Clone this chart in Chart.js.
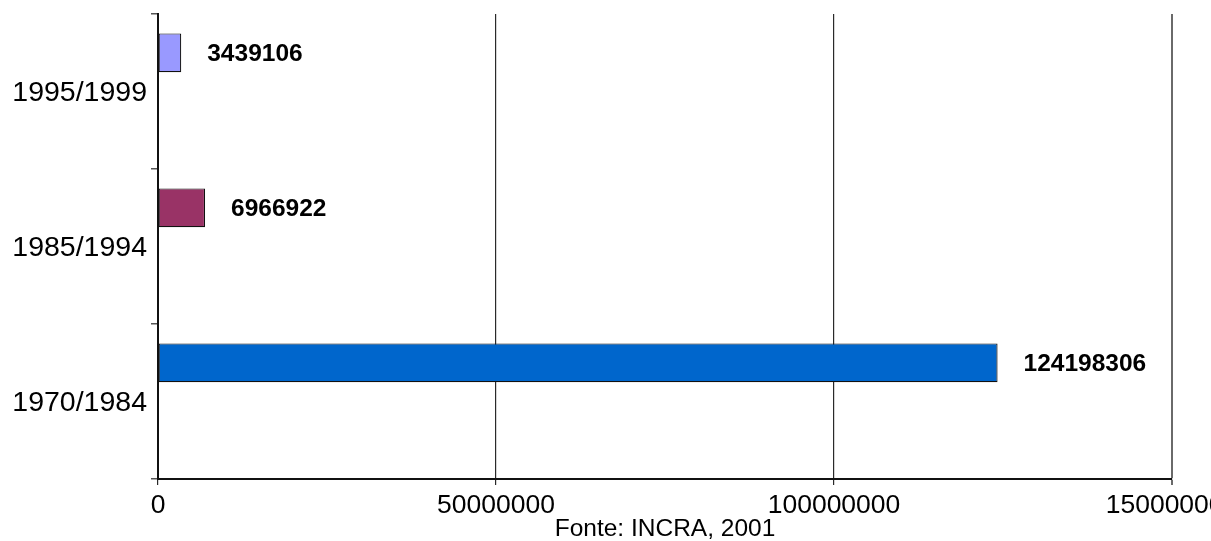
<!DOCTYPE html>
<html>
<head>
<meta charset="utf-8">
<script src="https://cdn.jsdelivr.net/npm/chart.js@4.4.1/dist/chart.umd.min.js"></script>
<style>
  html, body { margin: 0; padding: 0; background: #ffffff; }
  #wrap { width: 1211px; height: 541px; }
</style>
</head>
<body>
<div id="wrap"><canvas id="c" width="1211" height="541"></canvas></div>
<script>
// Periods (top to bottom) and the area recorded in each one
const periods = ['1995/1999', '1985/1994', '1970/1984'];
const areaValues = [3439106, 6966922, 124198306];
const barColors = ['#9999FF', '#993366', '#0066CC'];
const xTickValues = [0, 50000000, 100000000, 150000000];
const sourceNote = 'Fonte: INCRA, 2001';

const FONT = '"Liberation Sans", Arial, Helvetica, sans-serif';

// Writes each bar's value just past its end
const valueLabels = {
  id: 'valueLabels',
  afterDatasetsDraw(chart) {
    const meta = chart.getDatasetMeta(0);
    const ctx = chart.ctx;
    ctx.save();
    ctx.font = 'bold 24.5px ' + FONT;
    ctx.fillStyle = '#000000';
    ctx.textAlign = 'left';
    ctx.textBaseline = 'middle';
    meta.data.forEach((bar, i) => {
      ctx.fillText(String(areaValues[i]), bar.x + 26, bar.y + 1);
    });
    ctx.restore();
  }
};

const barStyle = {
  borderColor: '#111111',
  borderWidth: 1.2,
  borderSkipped: false,
  categoryPercentage: 0.75,
  barPercentage: 1.0
};

new Chart(document.getElementById('c'), {
  type: 'bar',
  data: {
    labels: periods,
    datasets: [
      Object.assign({ label: 'Área', data: areaValues, backgroundColor: barColors }, barStyle),
      // the two remaining series of the cluster hold no values
      Object.assign({ label: '', data: [] }, barStyle),
      Object.assign({ label: '', data: [] }, barStyle)
    ]
  },
  options: {
    indexAxis: 'y',
    responsive: false,
    animation: false,
    devicePixelRatio: 1,
    layout: { padding: { top: 14, right: 39, left: 0, bottom: 0 } },
    plugins: {
      legend: { display: false },
      tooltip: { enabled: false }
    },
    scales: {
      x: {
        type: 'linear',
        position: 'bottom',
        min: xTickValues[0],
        max: xTickValues[xTickValues.length - 1],
        afterBuildTicks(scale) {
          scale.ticks = xTickValues.map(v => ({ value: v }));
        },
        afterFit(scale) {
          scale.height = 62;
          scale.paddingLeft = 0;
          scale.paddingRight = 0;
        },
        ticks: {
          color: '#000000',
          font: { family: FONT, size: 26.5 },
          padding: 5,
          maxRotation: 0,
          autoSkip: false,
          callback: (v) => String(v)
        },
        grid: {
          drawOnChartArea: true,
          drawTicks: true,
          tickLength: 6,
          color: (c) => (c.index === 3 ? '#6a6a6a' : '#2a2a2a'),
          lineWidth: (c) => (c.index === 3 ? 2 : 1.2)
        },
        border: { display: true, color: '#111111', width: 2 },
        title: {
          display: true,
          text: sourceNote,
          color: '#000000',
          font: { family: FONT, size: 24.5, lineHeight: 1 },
          padding: { top: 0, bottom: 0 }
        }
      },
      y: {
        type: 'category',
        offset: true,
        afterFit(scale) {
          scale.width = 158;
          scale.paddingTop = 0;
          scale.paddingBottom = 0;
        },
        ticks: {
          color: '#000000',
          font: { family: FONT, size: 28.5 },
          padding: 4,
          labelOffset: 2
        },
        grid: {
          offset: true,
          drawOnChartArea: false,
          drawTicks: true,
          tickLength: 7,
          color: '#555555',
          lineWidth: 1.5
        },
        border: { display: true, color: '#111111', width: 2 }
      }
    }
  },
  plugins: [valueLabels]
});
</script>
</body>
</html>
